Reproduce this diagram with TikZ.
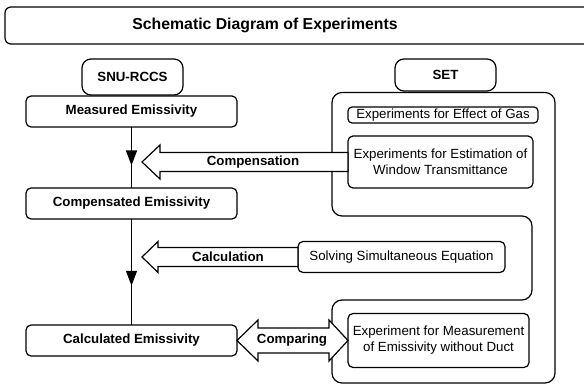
\documentclass[tikz,border=0pt]{standalone}
\usepackage{fontspec}
\setmainfont{Liberation Sans}
\usetikzlibrary{calc,arrows.meta,decorations.markings}
\begin{document}
\begin{tikzpicture}[x=1pt,y=-1pt, line width=1.2pt, line join=round,
  box/.style={draw, rounded corners=5pt, inner sep=0pt, outer sep=0pt, align=center, fill=white,
    font=\fontsize{13.3}{16}\selectfont},
  bbox/.style={box, font=\fontsize{13.3}{16}\selectfont\bfseries},
  hollow/.style={draw, fill=white, line join=miter},
  lbl/.style={inner sep=0pt, font=\fontsize{13.3}{16}\selectfont\bfseries},
  flow/.style={draw, postaction={decorate},
    decoration={markings, mark=at position 0.63 with {\arrow{Triangle[width=11pt,length=15pt]}}}}
]
\clip (0,0) rectangle (584,385);
% title
\node[draw, rounded corners=6pt, minimum width=595pt, minimum height=37pt, inner sep=0pt, outer sep=0pt] (titlebox) at (302.5,25.5) {};
\node[inner sep=0pt, font=\fontsize{15.8}{18}\selectfont\bfseries] (title) at (265,25.5) {Schematic Diagram of Experiments};
% SET outline
\draw[rounded corners=10pt] (443,92.5) -- (555,92.5) -- (555,383) -- (332,383) -- (332,300) -- (532,300) -- (532,216) -- (332,216) -- (332,92.5) -- cycle;
% left column
\node[bbox, rounded corners=9pt, minimum width=101pt, minimum height=36pt] (snu) at (132.5,77) {SNU-RCCS};
\node[bbox, minimum width=211pt, minimum height=31pt] (meas) at (131.5,111.5) {Measured Emissivity};
\node[bbox, minimum width=211pt, minimum height=31pt] (comp) at (131.5,203.5) {Compensated Emissivity};
\node[bbox, minimum width=211pt, minimum height=31pt] (calc) at (131.5,340.5) {Calculated Emissivity};
% right column
\node[bbox, rounded corners=9pt, minimum width=101pt, minimum height=32pt] (set) at (445.5,75) {SET};
\node[box, rounded corners=4pt, minimum width=190pt, minimum height=16pt] (gas) at (443,115) {Experiments for Effect of Gas};
\node[box, minimum width=185pt, minimum height=52pt] (win) at (440.5,162) {Experiments for Estimation of\\Window Transmittance};
\node[box, minimum width=207pt, minimum height=31pt] (solve) at (401.5,257) {Solving Simultaneous Equation};
\node[box, minimum width=181pt, minimum height=54pt] (mwd) at (438.5,340.5) {Experiment for Measurement\\of Emissivity without Duct};
% flow
\draw[flow] (meas) -- (comp);
\draw[flow] (comp) -- (calc);
% compensation arrow
\coordinate (ctip) at (142,162);
\draw[hollow] (ctip) -- ++(18,-17) -- ++(0,7.5) -- ($(win.west)+(0,-9.5)$) -- ($(win.west)+(0,9.5)$)
  -- ($(ctip)+(18,9.5)$) -- ($(ctip)+(18,17)$) -- cycle;
\node[lbl] (lcomp) at (253,162.5) {Compensation};
% calculation arrow
\coordinate (ktip) at (142,257);
\draw[hollow] (ktip) -- ++(16,-15.5) -- ++(0,6) -- ($(solve.west)+(0,-9.5)$) -- ($(solve.west)+(0,9.5)$)
  -- ($(ktip)+(16,9.5)$) -- ($(ktip)+(16,15.5)$) -- cycle;
\node[lbl] (lcalc) at (228,257) {Calculation};
% comparing arrow
\draw[hollow] (calc.east) -- ++(21,-20.5) -- ++(0,8) -- ($(mwd.west)+(-19,-12.5)$) -- ++(0,-8) -- (mwd.west)
  -- ++(-19,20.5) -- ++(0,-8) -- ($(calc.east)+(21,12.5)$) -- ++(0,8) -- cycle;
\node[lbl] (lcmp) at (292,340.5) {Comparing};
\end{tikzpicture}
\end{document}
